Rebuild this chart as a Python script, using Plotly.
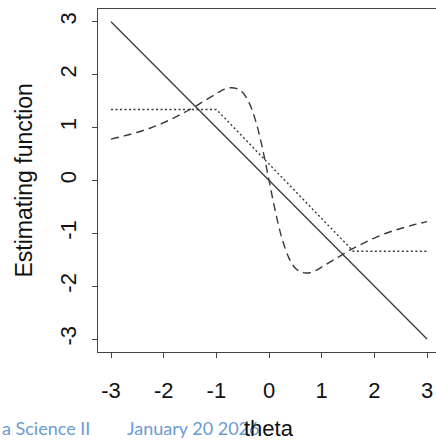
import plotly.graph_objects as go

# Least squares estimating function (solid)
ls_x = [-3, 3]
ls_y = [3, -3]

# Huber-type (dotted)
hub_x = [-3, -1.0, 1.6, 3]
hub_y = [1.34, 1.34, -1.34, -1.34]

# Redescending (dashed)
red_x = [-3, -2.75, -2.5, -2.25, -2, -1.75, -1.5, -1.25, -1, -0.875, -0.75, -0.625,
         -0.5, -0.375, -0.25, -0.125, 0, 0.125, 0.25, 0.375, 0.5, 0.625, 0.75, 0.875,
         1, 1.25, 1.5, 1.75, 2, 2.25, 2.5, 2.75, 3]
red_y = [0.78, 0.84, 0.91, 0.99, 1.09, 1.21, 1.34, 1.49, 1.64, 1.71, 1.75, 1.74,
         1.66, 1.46, 1.11, 0.61, 0, -0.61, -1.11, -1.46, -1.66, -1.74, -1.75, -1.71,
         -1.64, -1.49, -1.34, -1.21, -1.09, -0.99, -0.91, -0.84, -0.78]

x_ticks = [-3, -2, -1, 0, 1, 2, 3]
y_ticks = [-3, -2, -1, 0, 1, 2, 3]

line_col = "#3a3a3a"
fig = go.Figure()
fig.add_trace(go.Scatter(x=ls_x, y=ls_y, mode="lines",
                         line=dict(color=line_col, width=1.3)))
fig.add_trace(go.Scatter(x=hub_x, y=hub_y, mode="lines",
                         line=dict(color=line_col, width=1.4, dash="2px,2.5px")))
fig.add_trace(go.Scatter(x=red_x, y=red_y, mode="lines",
                         line=dict(color=line_col, width=1.4, dash="8px,5px", shape="spline")))

axis_font = dict(family="Liberation Sans, Arial", size=22, color="#111")
fig.update_layout(
    width=436, height=440,
    margin=dict(l=98, r=0, t=9, b=88),
    paper_bgcolor="white", plot_bgcolor="white",
    showlegend=False,
    xaxis=dict(range=[-3.247, 3.17], tickvals=x_ticks, ticktext=[str(v) for v in x_ticks],
               showgrid=False, zeroline=False, showline=True, mirror=True,
               linecolor="#444", linewidth=1.4, ticks="outside", ticklen=5,
               tickcolor="#444", tickfont=axis_font, ticklabelstandoff=13),
    yaxis=dict(range=[-3.245, 3.24], tickvals=y_ticks, ticktext=[str(v) for v in y_ticks],
               showgrid=False, zeroline=False, showline=True, mirror=False,
               linecolor="#444", linewidth=1.4, ticks="outside", ticklen=5,
               tickcolor="#444", tickfont=axis_font, tickangle=-90, ticklabelstandoff=7),
)

fig.add_annotation(text="Estimating function", xref="paper", yref="paper",
                   x=-0.219, y=0.5, xanchor="center", yanchor="middle",
                   textangle=-90, showarrow=False,
                   font=dict(family="Liberation Sans, Arial", size=23, color="#111"))
fig.add_annotation(text="a Science II", xref="paper", yref="paper",
                   x=-98 / 338, y=-0.222, xanchor="left", yanchor="middle",
                   showarrow=False, font=dict(family="Lato", size=18, color="#6b9bd2"))
fig.add_annotation(text="January 20 2026", xref="paper", yref="paper",
                   x=(125 - 98) / 338, y=-0.222, xanchor="left", yanchor="middle",
                   showarrow=False, font=dict(family="Lato", size=18, color="#6b9bd2"))
fig.add_annotation(text="theta", xref="x", yref="paper",
                   x=0, y=-0.222, xanchor="center", yanchor="middle",
                   showarrow=False, font=dict(family="Liberation Sans, Arial", size=22, color="#111"))

fig.write_html("out.html", config={"displayModeBar": False},
               post_script="document.body.style.margin='0';document.body.style.overflow='hidden';")
